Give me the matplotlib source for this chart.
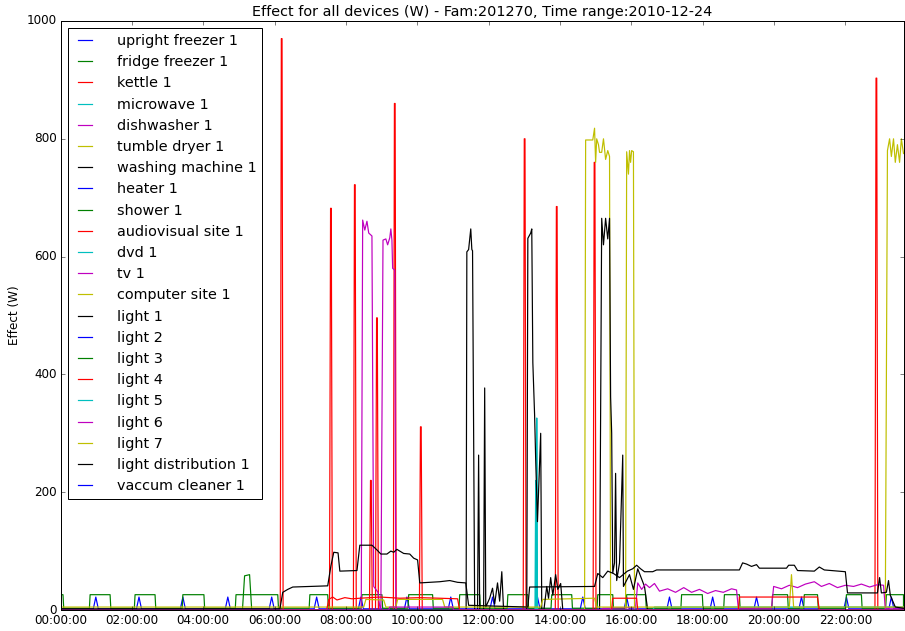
import matplotlib
matplotlib.use("Agg")
import matplotlib.pyplot as plt
from matplotlib.ticker import FuncFormatter, MultipleLocator

# Time of day in decimal hours, power in watts. The log stops at END.
END = 23.63

DEVICES = [
    "upright freezer 1", "fridge freezer 1", "kettle 1", "microwave 1",
    "dishwasher 1", "tumble dryer 1", "washing machine 1", "heater 1",
    "shower 1", "audiovisual site 1", "dvd 1", "tv 1", "computer site 1",
    "light 1", "light 2", "light 3", "light 4", "light 5", "light 6",
    "light 7", "light distribution 1", "vaccum cleaner 1",
]

# compressor kicks of the upright freezer
freezer_peaks_t = [0.99, 2.20, 3.43, 4.69, 5.92, 7.18, 8.42, 9.71, 10.94, 12.11,
                   13.37, 14.64, 15.87, 17.07, 18.28, 19.51, 20.77, 22.03, 23.29]
freezer_peak_w = 22
freezer_idle_w = 2

# fridge freezer run cycles
fridge_on = [0.00, 0.83, 2.09, 3.43, 4.92, 6.99, 8.45, 9.76, 11.19, 12.54,
             13.77, 15.06, 15.87, 17.41, 18.61, 19.96, 20.85, 22.03, 23.15]
fridge_off = [0.07, 1.39, 2.65, 4.02, 6.09, 7.49, 9.01, 10.43, 11.75, 13.10,
              14.33, 15.48, 16.40, 17.99, 19.03, 20.38, 21.22, 22.45, 23.63]
fridge_run_w = 26
fridge_idle_w = 3

# kettle boils
kettle_t = [6.20, 7.58, 8.25, 8.70, 8.87, 9.37, 10.10, 13.01, 13.91, 14.97, 22.87]
kettle_w = [970, 682, 722, 220, 496, 860, 311, 800, 685, 760, 903]

microwave_t = [0, 13.30, 13.32, 13.33, 13.34, 13.35, 13.37, END]
microwave_w = [0, 0, 220, 0, 0, 326, 0, 0]

dishwasher_t = [0, 8.43, 8.47, 8.53, 8.59, 8.64, 8.73, 8.78, 8.90, 8.96, 8.98,
                9.04, 9.12, 9.17, 9.23, 9.26, 9.29, 9.31, 9.37, 9.40, END]
dishwasher_w = [0, 0, 662, 645, 660, 640, 635, 40, 30, 0, 0,
                628, 630, 620, 632, 647, 628, 580, 577, 0, 0]

dryer_t = [0, 14.69, 14.72, 14.92, 14.97, 15.00, 15.03, 15.08, 15.11, 15.17,
           15.22, 15.28, 15.34, 15.39, 15.42, 15.84, 15.87, 15.92, 15.95, 15.98,
           16.01, 16.06, 16.09, 23.12, 23.18, 23.24, 23.29, 23.35, 23.40, 23.46,
           23.52, 23.57, END]
dryer_w = [0, 0, 798, 798, 818, 760, 800, 790, 777, 777,
           800, 765, 780, 770, 0, 0, 778, 740, 780, 760,
           780, 778, 0, 0, 780, 800, 770, 800, 760, 790,
           760, 800, 775]

washer_t = [0, 11.37, 11.39, 11.44, 11.50, 11.53, 11.55, 11.61, 11.69, 11.72,
            11.75, 11.86, 11.89, 11.92, 12.03, 12.11, 12.17, 12.25, 12.31, 12.37,
            12.42, 13.07, 13.10, 13.18, 13.21, 13.24, 13.29, 13.32, 13.37, 13.40,
            13.46, 13.49, 15.11, 15.17, 15.22, 15.28, 15.34, 15.39, 15.42, 15.45,
            15.48, 15.53, 15.56, 15.59, 15.67, 15.76, 15.78, 15.95, 16.06, 16.18,
            16.37, 16.46, END]
washer_w = [0, 0, 608, 612, 647, 612, 610, 0, 0, 263,
            0, 0, 377, 5, 20, 37, 10, 46, 15, 65,
            0, 0, 631, 640, 647, 420, 330, 255, 150, 200,
            300, 0, 0, 665, 620, 665, 630, 665, 362, 300,
            63, 80, 232, 50, 80, 263, 40, 60, 35, 70,
            40, 0, 0]

shower_t = [0, 5.10, 5.16, 5.30, 5.36, END]
shower_w = [0, 0, 58, 60, 0, 0]

dvd_t = [0, 16.60, 16.65, END]
dvd_w = [0, 0, 5, 5]

tv_t = [0, 15.17, 15.20, 16.12, 16.18, 16.29, 16.40, 16.51, 16.65, 16.79,
        17.02, 17.24, 17.47, 17.69, 17.91, 18.14, 18.36, 18.58, 18.81, 18.95,
        19.00, 19.93, 19.99, 20.21, 20.43, 20.66, 20.88, 21.13, 21.33, 21.55,
        21.78, 22.00, 22.23, 22.45, 22.68, 22.90, 23.07, 23.12, END]
tv_w = [0, 0, 3, 4, 46, 35, 44, 38, 45, 32,
        36, 30, 38, 30, 35, 28, 33, 30, 36, 34,
        3, 3, 40, 36, 42, 38, 44, 48, 40, 45,
        38, 42, 40, 44, 39, 43, 42, 3, 3]

computer_t = [0, 8.50, 8.56, 9.06, 9.12, 9.40, 9.45, 10.71, 10.77, 13.46,
              13.52, 14.97, 15.03, 20.43, 20.49, 20.55, END]
computer_w = [5, 5, 18, 17, 5, 5, 18, 18, 5, 5,
              18, 20, 5, 5, 60, 5, 5]

light1_t = [0, 13.55, 13.63, 13.68, 13.74, 13.80, 13.88, 13.94, 14.02, 14.08, END]
light1_w = [0, 0, 40, 20, 55, 25, 60, 35, 45, 0, 0]

light4_t = [0, 7.46, 7.52, 7.63, 7.75, 7.97, 8.17, 8.39, 8.96, 9.51, 10.07,
            10.63, 11.13, 11.19, 15.45, 15.48, 16.15, 16.18, 19.00, 19.03,
            21.22, 21.27, END]
light4_w = [0, 0, 18, 22, 17, 21, 19, 20, 22, 20, 21,
            20, 19, 0, 0, 20, 20, 0, 0, 22,
            22, 0, 0]

light6_t = [0, 9.20, 9.23, 10.99, 11.02, END]
light6_w = [0, 0, 5, 5, 0, 0]

distribution_t = [0, 6.15, 6.23, 6.37, 6.51, 7.49, 7.58, 7.66, 7.78, 7.83,
                  8.31, 8.39, 8.73, 8.87, 8.98, 9.15, 9.26, 9.34, 9.43, 9.51,
                  9.62, 9.79, 9.90, 10.01, 10.07, 10.63, 10.91, 11.13, 11.36, 11.44,
                  13.10, 13.15, 14.97, 15.06, 15.20, 15.34, 15.50, 15.67, 15.89, 16.04,
                  16.15, 16.26, 16.37, 16.60, 16.71, 19.03, 19.12, 19.23, 19.37, 19.51,
                  19.59, 20.35, 20.41, 20.57, 20.66, 21.13, 21.27, 21.41, 22.00, 22.06,
                  22.90, 22.96, 23.01, 23.15, 23.21, 23.26, 23.40, END]
distribution_w = [2, 2, 30, 35, 39, 41, 75, 98, 97, 66,
                  67, 110, 110, 102, 95, 95, 100, 98, 103, 100,
                  96, 95, 88, 85, 46, 48, 50, 47, 46, 8,
                  5, 39, 40, 62, 55, 66, 62, 55, 66, 70,
                  76, 70, 65, 65, 68, 68, 80, 78, 74, 77,
                  71, 71, 76, 76, 67, 66, 73, 68, 65, 29,
                  29, 55, 29, 30, 50, 25, 5, 3]

idle_t = [0, END]
idle_w = [0, 0]


def spike_trace(centres, peaks, base, half=0.04, top=0.01):
    t, w = [0.0], [base]
    for c, p in zip(centres, peaks):
        t += [c - half, c - top, c + top, c + half]
        w += [base, p, p, base]
    t.append(END)
    w.append(base)
    return t, w


def cycle_trace(starts, stops, level, base, ramp=0.02):
    t, w = [], []
    if starts[0] > 0:
        t.append(0.0)
        w.append(base)
    for a, b in zip(starts, stops):
        t += [max(a - ramp, 0.0), a, b, min(b + ramp, END)]
        w += [base, level, level, base]
    if t[-1] < END:
        t.append(END)
        w.append(base)
    return t, w


def hour_label(h, pos):
    minutes = int(round(h * 60))
    return "%02d:%02d:00" % (minutes // 60 % 24, minutes % 60)


traces = {
    "upright freezer 1": spike_trace(freezer_peaks_t, [freezer_peak_w] * len(freezer_peaks_t),
                                     freezer_idle_w, half=0.07, top=0.0),
    "fridge freezer 1": cycle_trace(fridge_on, fridge_off, fridge_run_w, fridge_idle_w),
    "kettle 1": spike_trace(kettle_t, kettle_w, 0),
    "microwave 1": (microwave_t, microwave_w),
    "dishwasher 1": (dishwasher_t, dishwasher_w),
    "tumble dryer 1": (dryer_t, dryer_w),
    "washing machine 1": (washer_t, washer_w),
    "heater 1": (idle_t, idle_w),
    "shower 1": (shower_t, shower_w),
    "audiovisual site 1": (idle_t, idle_w),
    "dvd 1": (dvd_t, dvd_w),
    "tv 1": (tv_t, tv_w),
    "computer site 1": (computer_t, computer_w),
    "light 1": (light1_t, light1_w),
    "light 2": (idle_t, idle_w),
    "light 3": (idle_t, idle_w),
    "light 4": (light4_t, light4_w),
    "light 5": (idle_t, idle_w),
    "light 6": (light6_t, light6_w),
    "light 7": (idle_t, idle_w),
    "light distribution 1": (distribution_t, distribution_w),
    "vaccum cleaner 1": (idle_t, idle_w),
}

plt.style.use("classic")
fig = plt.figure(figsize=(905 / 72, 631 / 72), dpi=72, facecolor="white")
ax = fig.add_axes([60.5 / 905, 21 / 631, 843 / 905, 589 / 631])

for name in DEVICES:
    t, w = traces[name]
    ax.plot(t, w, label=name, lw=1.2)

ax.set_xlim(0, END)
ax.set_ylim(0, 1000)
ax.xaxis.set_major_locator(MultipleLocator(2))
ax.xaxis.set_major_formatter(FuncFormatter(hour_label))
ax.yaxis.set_major_locator(MultipleLocator(200))
ax.set_ylabel("Effect (W)")
ax.set_title("Effect for all devices (W) - Fam:201270, Time range:2010-12-24")
ax.legend(loc="upper left", labelspacing=0.5, handlelength=1.6, handletextpad=1.4)

fig.savefig("out.png", dpi=72, facecolor="white")
